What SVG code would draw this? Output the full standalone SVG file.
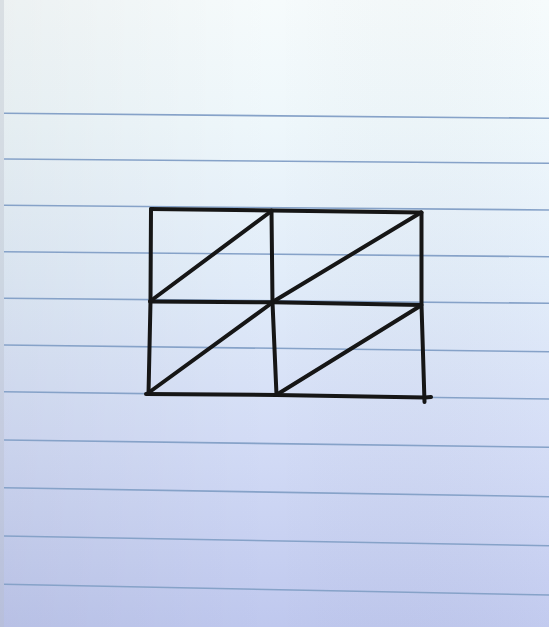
<svg xmlns="http://www.w3.org/2000/svg" width="549" height="627" viewBox="0 0 549 627">
<defs>
<linearGradient id="paper" x1="0" y1="0" x2="0" y2="1">
<stop offset="0" stop-color="#f6fbfc"/>
<stop offset="0.2" stop-color="#eef7fb"/>
<stop offset="0.45" stop-color="#e1ecf9"/>
<stop offset="0.7" stop-color="#d3dcf6"/>
<stop offset="1" stop-color="#bfc8ee"/>
</linearGradient>
<linearGradient id="side" x1="0" y1="0" x2="1" y2="0">
<stop offset="0" stop-color="#000" stop-opacity="0.04"/>
<stop offset="0.5" stop-color="#000" stop-opacity="0"/>
<stop offset="1" stop-color="#fff" stop-opacity="0.05"/>
</linearGradient>
<style>
.rule{stroke:#86a2c8;stroke-width:1.6;fill:none}
.ink{stroke:#161616;stroke-width:4;fill:none;stroke-linecap:round;stroke-linejoin:round}
</style>
</defs>
<rect width="549" height="627" fill="url(#paper)"/>
<rect width="549" height="627" fill="url(#side)"/>
<rect x="0" y="0" width="4" height="627" fill="#b8bcc8" opacity="0.35"/>
<g id="rules">
<line class="rule" x1="4" y1="113.3" x2="549" y2="118.3"/>
<line class="rule" x1="4" y1="159" x2="549" y2="163.3"/>
<line class="rule" x1="4" y1="205.3" x2="549" y2="210"/>
<line class="rule" x1="4" y1="251.7" x2="549" y2="256.7"/>
<line class="rule" x1="4" y1="298.3" x2="549" y2="303.3"/>
<line class="rule" x1="4" y1="345" x2="549" y2="351.7"/>
<line class="rule" x1="4" y1="391.7" x2="549" y2="399"/>
<line class="rule" x1="4" y1="440" x2="549" y2="447.3"/>
<line class="rule" x1="4" y1="487.7" x2="549" y2="496.7"/>
<line class="rule" x1="4" y1="536" x2="549" y2="545.7"/>
<line class="rule" x1="4" y1="584.3" x2="549" y2="595"/>
</g>
<g id="grid">
<path class="ink" d="M151 209 L271.5 210.5 L421.5 212.5"/>
<path class="ink" d="M150 301.5 L272.5 302.3 L421.5 305"/>
<path class="ink" d="M146 394 L276.5 395 L425 397.5 L431 397"/>
<path class="ink" d="M151 209 L150.5 301.5 L148.5 394"/>
<path class="ink" d="M271.5 210.5 L272.5 302.3 L276.5 395"/>
<path class="ink" d="M421.5 212.5 L421.5 305 L424.5 402"/>
<path class="ink" d="M150.5 301 L271.5 211"/>
<path class="ink" d="M272.5 302 L421 212.5"/>
<path class="ink" d="M147.5 393.5 L272.5 302.5"/>
<path class="ink" d="M277 394.5 L421 305.5"/>
</g>
</svg>
